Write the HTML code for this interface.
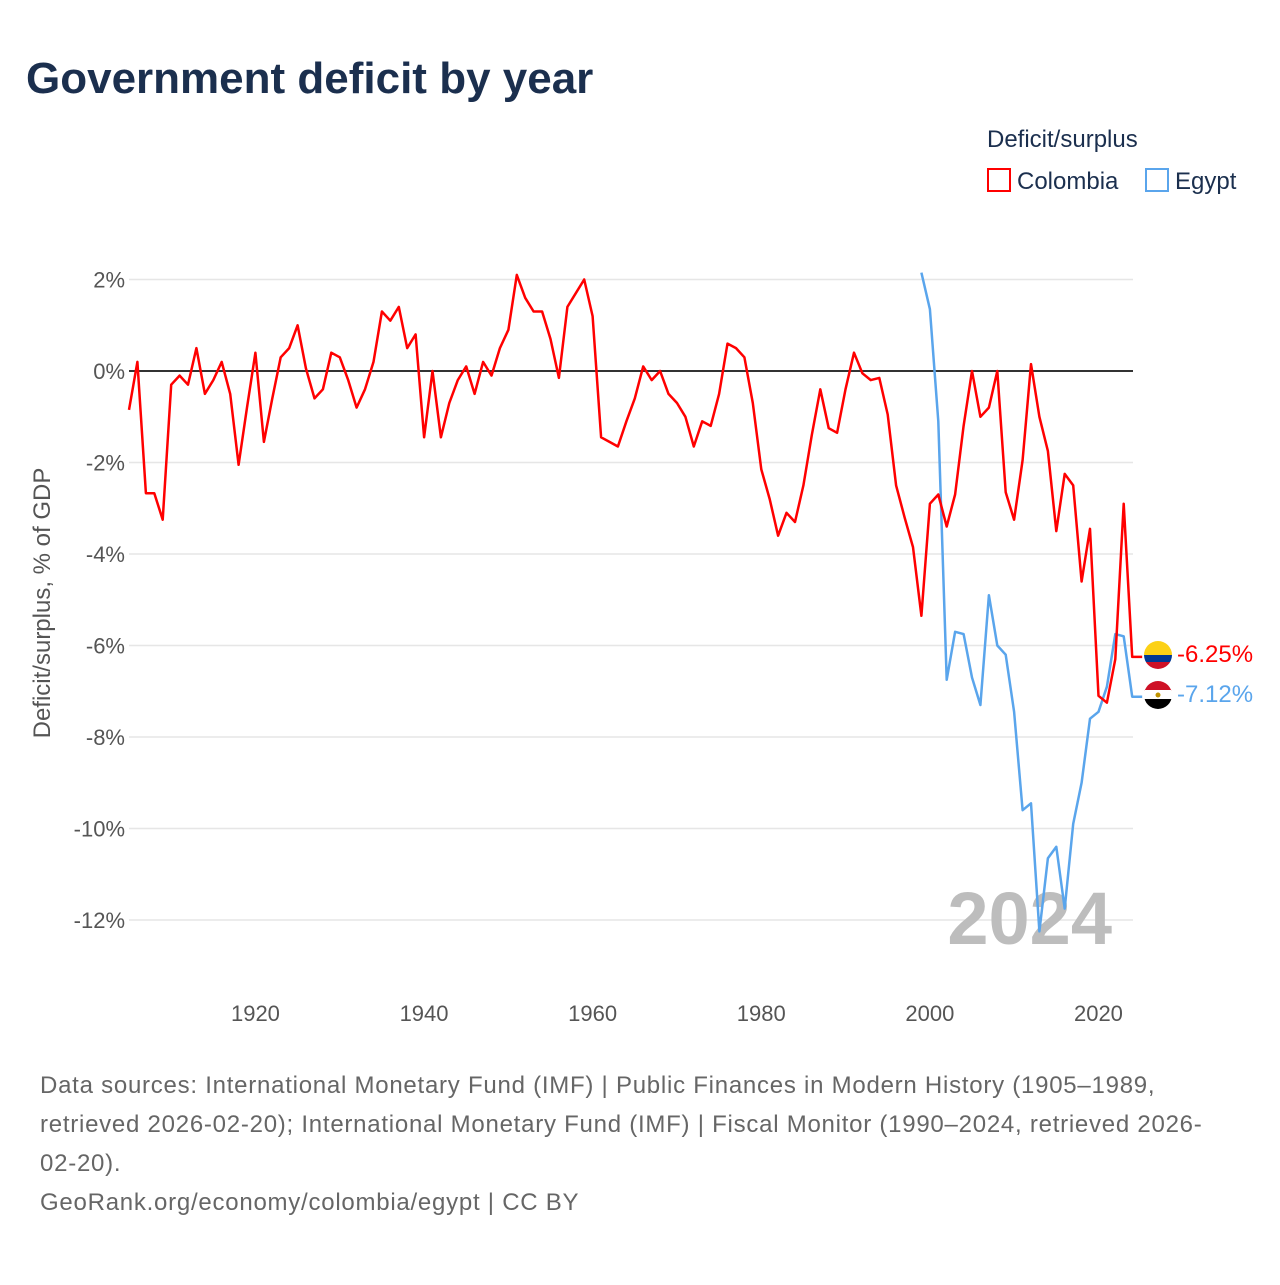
<!DOCTYPE html>
<html><head><meta charset="utf-8"><style>
body{margin:0;background:#fff;width:1280px;height:1280px;overflow:hidden;font-family:"Liberation Sans",sans-serif}
</style></head><body>
<svg id="chart" width="1280" height="1280" xmlns="http://www.w3.org/2000/svg" font-family="Liberation Sans, sans-serif">
<text x="26" y="93" font-size="44" font-weight="bold" fill="#1b2f4e">Government deficit by year</text>
<text x="987" y="147" font-size="24" fill="#1b2f4e">Deficit/surplus</text>
<g><rect x="988" y="169" width="22" height="22" fill="none" stroke="#ff0000" stroke-width="2"/><text x="1017" y="189" font-size="24" fill="#1b2f4e">Colombia</text></g>
<g><rect x="1146" y="169" width="22" height="22" fill="none" stroke="#5aa5ec" stroke-width="2"/><text x="1175" y="189" font-size="24" fill="#1b2f4e">Egypt</text></g>
<g id="grid"></g><g id="yticks"></g><g id="xticks"></g>
<text x="1112" y="944" text-anchor="end" font-size="74" font-weight="bold" fill="#bdbdbd">2024</text>
<g id="series"></g>
<text transform="translate(50,603) rotate(-90)" text-anchor="middle" font-size="24" fill="#555">Deficit/surplus, % of GDP</text>
<g><clipPath id="c1"><circle cx="1158" cy="655" r="14"/></clipPath><g clip-path="url(#c1)"><rect x="1144" y="641" width="28" height="14" fill="#fcd116"/><rect x="1144" y="655" width="28" height="7" fill="#003893"/><rect x="1144" y="662" width="28" height="7" fill="#ce1126"/></g></g>
<g><clipPath id="c2"><circle cx="1158" cy="695" r="14"/></clipPath><g clip-path="url(#c2)"><rect x="1144" y="681" width="28" height="10" fill="#ce1126"/><rect x="1144" y="690" width="28" height="10" fill="#fff"/><rect x="1144" y="699" width="28" height="10" fill="#000"/><circle cx="1158" cy="695" r="2.5" fill="#c09300"/></g></g>
<text x="1177" y="662" font-size="24" fill="#ff0000">-6.25%</text>
<text x="1177" y="702" font-size="24" fill="#5aa5ec">-7.12%</text>
<g font-size="24" fill="#666" letter-spacing="0.75">
<text x="40" y="1093">Data sources: International Monetary Fund (IMF) | Public Finances in Modern History (1905–1989,</text>
<text x="40" y="1132">retrieved 2026-02-20); International Monetary Fund (IMF) | Fiscal Monitor (1990–2024, retrieved 2026-</text>
<text x="40" y="1171">02-20).</text>
<text x="40" y="1210">GeoRank.org/economy/colombia/egypt | CC BY</text>
</g>
</svg>
<script>
const colYears=[1905,2024];
const colombia=[-0.85,0.2,-2.67,-2.67,-3.25,-0.3,-0.1,-0.3,0.5,-0.5,-0.2,0.2,-0.5,-2.05,-0.8,0.4,-1.55,-0.6,0.3,0.5,1.0,0.05,-0.6,-0.4,0.4,0.3,-0.2,-0.8,-0.4,0.2,1.3,1.1,1.4,0.5,0.8,-1.45,0,-1.45,-0.7,-0.2,0.1,-0.5,0.2,-0.1,0.5,0.9,2.1,1.6,1.3,1.3,0.7,-0.15,1.4,1.7,2.0,1.2,-1.45,-1.55,-1.65,-1.1,-0.6,0.1,-0.2,0.0,-0.5,-0.7,-1.0,-1.65,-1.1,-1.2,-0.5,0.6,0.5,0.3,-0.7,-2.15,-2.8,-3.6,-3.1,-3.3,-2.5,-1.4,-0.4,-1.25,-1.35,-0.4,0.4,-0.05,-0.2,-0.15,-0.95,-2.5,-3.2,-3.85,-5.35,-2.9,-2.7,-3.4,-2.7,-1.2,0,-1.0,-0.8,0.0,-2.65,-3.25,-1.95,0.15,-1.0,-1.75,-3.5,-2.25,-2.5,-4.6,-3.45,-7.1,-7.25,-6.3,-2.9,-6.25];
const egyptStart=1999;
const egypt=[2.15,1.35,-1.1,-6.75,-5.7,-5.75,-6.7,-7.3,-4.9,-6.0,-6.2,-7.45,-9.6,-9.45,-12.25,-10.65,-10.4,-11.75,-9.9,-9.0,-7.6,-7.45,-6.9,-5.75,-5.8,-7.12];
const yTicks=[2,0,-2,-4,-6,-8,-10,-12];
const xTicks=[1920,1940,1960,1980,2000,2020];
const NS="http://www.w3.org/2000/svg";
const X=y=>129+(y-1905)*(1100-257)/100;
const Y=v=>371-v*45.75;
function mk(t,a,p){const e=document.createElementNS(NS,t);for(const k in a)e.setAttribute(k,a[k]);document.getElementById(p).appendChild(e);return e;}
yTicks.forEach(v=>{
 const l=mk('line',{x1:129,x2:1133,y1:Y(v),y2:Y(v),stroke:v===0?'#333':'#e6e6e6','stroke-width':v===0?2:1.5},'grid');
 
 
 const t=mk('text',{x:125,y:Y(v)+8,'text-anchor':'end','font-size':22,fill:'#555'},'yticks');
 t.textContent=v+'%';
 
 
});
xTicks.forEach(v=>{
 const t=mk('text',{x:X(v),y:1021,'text-anchor':'middle','font-size':22,fill:'#555'},'xticks');
 t.textContent=v;
 
 
});
function line(vals,start,color,name){
 let d=vals.map((v,i)=>(i?'L':'M')+X(start+i).toFixed(1)+','+Y(v).toFixed(1)).join('');
 const last=vals[vals.length-1];
 d+='L'+(X(start+vals.length-1)+10)+','+Y(last).toFixed(1);
 const p=mk('path',{d:d,fill:'none',stroke:color,'stroke-width':2.5,'stroke-linejoin':'round'},'series');
 
 
}
line(egypt,egyptStart,'#5aa5ec','egypt-line');
line(colombia,colYears[0],'#ff0000','colombia-line');
</script>
</body></html>
